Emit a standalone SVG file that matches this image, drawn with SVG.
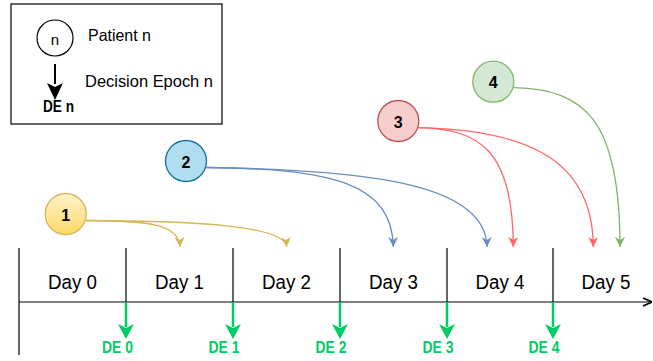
<svg xmlns="http://www.w3.org/2000/svg" width="653" height="361" viewBox="0 0 653 361">
  <style>
    .txt { font-family: "Liberation Sans", Arial, sans-serif; fill: #000; }
    .num { font-family: "Liberation Sans", Arial, sans-serif; font-size: 16px; font-weight: bold; text-anchor: middle; dominant-baseline: central; fill: #000; }
    .day { font-family: "Liberation Sans", Arial, sans-serif; font-size: 19.5px; text-anchor: middle; fill: #000; }
    .de { font-family: "Liberation Sans", Arial, sans-serif; font-size: 16px; font-weight: bold; text-anchor: middle; fill: #00cc66; }
    .axis { stroke: #000; stroke-width: 1.2; fill: none; }
    .edge { fill: none; stroke-width: 1.3; }
    .epoch { stroke: #00cc66; stroke-width: 2.5; fill: none; }
  </style>
  <defs>
    <linearGradient id="yellowFill" x1="0" y1="0" x2="0" y2="1">
      <stop offset="0" stop-color="#fff2cc"/>
      <stop offset="1" stop-color="#ffd966"/>
    </linearGradient>
    <marker id="arrYellow" markerUnits="userSpaceOnUse" viewBox="0 0 10 10" refX="10" refY="5" markerWidth="10" markerHeight="10" orient="auto">
      <path d="M0,0 L10,5 L0,10 L3,5 z" fill="#d6b656"/>
    </marker>
    <marker id="arrBlue" markerUnits="userSpaceOnUse" viewBox="0 0 10 10" refX="10" refY="5" markerWidth="10" markerHeight="10" orient="auto">
      <path d="M0,0 L10,5 L0,10 L3,5 z" fill="#6c8ebf"/>
    </marker>
    <marker id="arrRed" markerUnits="userSpaceOnUse" viewBox="0 0 10 10" refX="10" refY="5" markerWidth="10" markerHeight="10" orient="auto">
      <path d="M0,0 L10,5 L0,10 L3,5 z" fill="#ff6666"/>
    </marker>
    <marker id="arrGreen" markerUnits="userSpaceOnUse" viewBox="0 0 10 10" refX="10" refY="5" markerWidth="10" markerHeight="10" orient="auto">
      <path d="M0,0 L10,5 L0,10 L3,5 z" fill="#82b366"/>
    </marker>
    <marker id="arrAxis" markerUnits="userSpaceOnUse" viewBox="0 0 10 10" refX="10" refY="5" markerWidth="10" markerHeight="10" orient="auto">
      <path d="M1,1 L10,5 L1,9" fill="none" stroke="#000" stroke-width="1.6"/>
    </marker>
  </defs>

  <!-- Legend -->
  <g id="legend">
    <rect x="11" y="4" width="211" height="120" fill="#fff" stroke="#000" stroke-width="1.2"/>
    <circle cx="55" cy="38" r="18" fill="#fff" stroke="#000" stroke-width="1.2"/>
    <text class="txt" x="55" y="39" font-size="15" text-anchor="middle" dominant-baseline="central">n</text>
    <text class="txt" x="88" y="41" font-size="16.5" textLength="63" lengthAdjust="spacingAndGlyphs">Patient n</text>
    <line x1="55" y1="64" x2="55" y2="84" stroke="#000" stroke-width="2"/>
    <path d="M47,83 L55,87 L63,83 L55,100 z" fill="#000"/>
    <text class="txt" x="85" y="87" font-size="16.5" textLength="128" lengthAdjust="spacingAndGlyphs">Decision Epoch n</text>
    <text class="txt" x="43" y="112" font-size="16" font-weight="bold" textLength="31" lengthAdjust="spacingAndGlyphs">DE n</text>
  </g>

  <!-- Timeline -->
  <g id="timeline">
    <line class="axis" x1="19" y1="302" x2="652" y2="302" marker-end="url(#arrAxis)"/>
    <line class="axis" x1="19" y1="248" x2="19" y2="355"/>
    <line class="axis" x1="126" y1="248" x2="126" y2="302"/>
    <line class="axis" x1="233" y1="248" x2="233" y2="302"/>
    <line class="axis" x1="340" y1="248" x2="340" y2="302"/>
    <line class="axis" x1="447" y1="248" x2="447" y2="302"/>
    <line class="axis" x1="553" y1="248" x2="553" y2="302"/>
    <text class="day" x="72.5" y="289" textLength="49" lengthAdjust="spacingAndGlyphs">Day 0</text>
    <text class="day" x="179.5" y="289" textLength="49" lengthAdjust="spacingAndGlyphs">Day 1</text>
    <text class="day" x="286.5" y="289" textLength="49" lengthAdjust="spacingAndGlyphs">Day 2</text>
    <text class="day" x="393.5" y="289" textLength="49" lengthAdjust="spacingAndGlyphs">Day 3</text>
    <text class="day" x="500" y="289" textLength="49" lengthAdjust="spacingAndGlyphs">Day 4</text>
    <text class="day" x="606" y="289" textLength="49" lengthAdjust="spacingAndGlyphs">Day 5</text>
  </g>

  <!-- Decision epochs -->
  <g id="epochs">
    <line class="epoch" x1="126" y1="302" x2="126" y2="327"/>
    <path d="M118,324 L126,328 L134,324 L126,339 z" fill="#00cc66"/>
    <text class="de" x="117.5" y="353" textLength="31" lengthAdjust="spacingAndGlyphs">DE 0</text>
    <line class="epoch" x1="233" y1="302" x2="233" y2="327"/>
    <path d="M225,324 L233,328 L241,324 L233,339 z" fill="#00cc66"/>
    <text class="de" x="224" y="353" textLength="31" lengthAdjust="spacingAndGlyphs">DE 1</text>
    <line class="epoch" x1="340" y1="302" x2="340" y2="327"/>
    <path d="M332,324 L340,328 L348,324 L340,339 z" fill="#00cc66"/>
    <text class="de" x="331" y="353" textLength="31" lengthAdjust="spacingAndGlyphs">DE 2</text>
    <line class="epoch" x1="447" y1="302" x2="447" y2="327"/>
    <path d="M439,324 L447,328 L455,324 L447,339 z" fill="#00cc66"/>
    <text class="de" x="438" y="353" textLength="31" lengthAdjust="spacingAndGlyphs">DE 3</text>
    <line class="epoch" x1="553" y1="302" x2="553" y2="327"/>
    <path d="M545,324 L553,328 L561,324 L553,339 z" fill="#00cc66"/>
    <text class="de" x="544" y="353" textLength="31" lengthAdjust="spacingAndGlyphs">DE 4</text>
  </g>

  <!-- Patient arrival connectors -->
  <g id="connectors">
    <path class="edge" stroke="#d6b656" d="M86,220.5 C150,221 179,224 180,247" marker-end="url(#arrYellow)"/>
    <path class="edge" stroke="#d6b656" d="M86,220.5 C200,221 285,226 286.7,247" marker-end="url(#arrYellow)"/>
    <path class="edge" stroke="#6c8ebf" d="M206.5,167.5 C330,169 392,182 393.3,247" marker-end="url(#arrBlue)"/>
    <path class="edge" stroke="#6c8ebf" d="M206.5,167.5 C380,170 486,186 487,247" marker-end="url(#arrBlue)"/>
    <path class="edge" stroke="#ff6666" d="M418.5,127.7 C480,129 513,150 513.3,247" marker-end="url(#arrRed)"/>
    <path class="edge" stroke="#ff6666" d="M418.5,127.7 C520,130 593,155 593.3,247" marker-end="url(#arrRed)"/>
    <path class="edge" stroke="#82b366" d="M514,87.7 C585,89 620,120 620,247" marker-end="url(#arrGreen)"/>
  </g>

  <!-- Patients -->
  <g id="patient1">
    <circle cx="65.7" cy="214" r="20.5" fill="url(#yellowFill)" stroke="#d6b656" stroke-width="1.3"/>
    <text class="num" x="65.7" y="215">1</text>
  </g>
  <g id="patient2">
    <circle cx="186" cy="161" r="20.5" fill="#b1ddf0" stroke="#10739e" stroke-width="1.3"/>
    <text class="num" x="186" y="162">2</text>
  </g>
  <g id="patient3">
    <circle cx="398.3" cy="121" r="20.5" fill="#f8cecc" stroke="#b85450" stroke-width="1.3"/>
    <text class="num" x="398.3" y="122">3</text>
  </g>
  <g id="patient4">
    <circle cx="493.3" cy="81.7" r="20.5" fill="#d5e8d4" stroke="#82b366" stroke-width="1.3"/>
    <text class="num" x="493.3" y="82.7">4</text>
  </g>
</svg>
